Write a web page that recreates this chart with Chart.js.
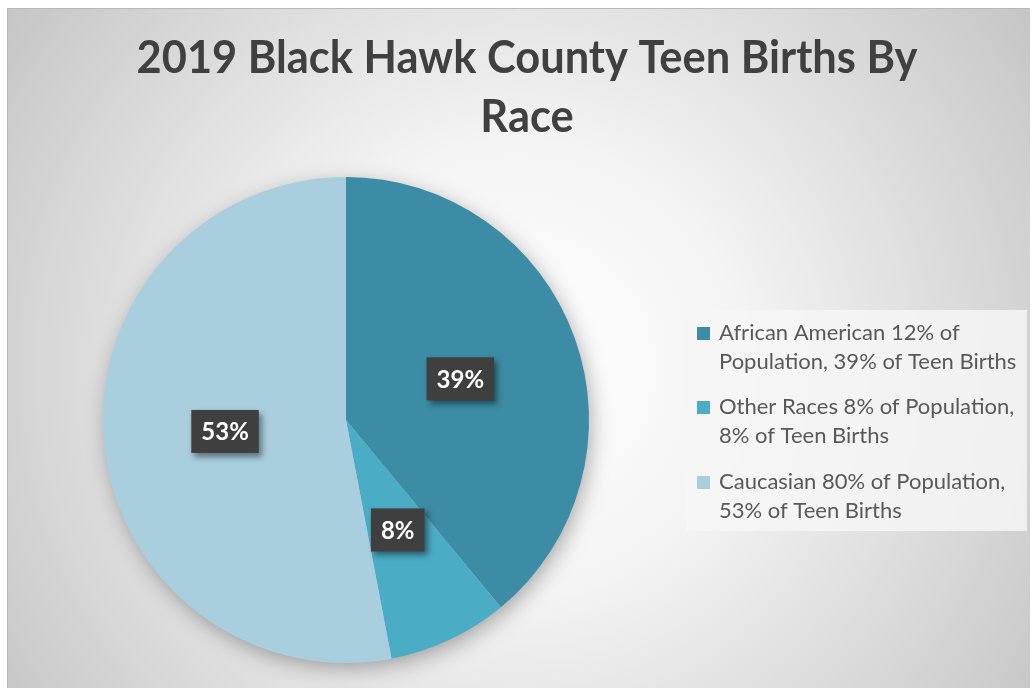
<!DOCTYPE html>
<html>
<head>
<meta charset="utf-8">
<script src="https://cdn.jsdelivr.net/npm/chart.js@4/dist/chart.umd.min.js"></script>
<style>
  html, body { margin: 0; padding: 0; background: #ffffff; }
  canvas { display: block; }
</style>
</head>
<body>
<canvas id="c" width="1032" height="688"></canvas>
<script>
// ---- data ----
const titleLines = ['2019 Black Hawk County Teen Births By', 'Race'];
const categories = [
  ['African American 12% of', 'Population, 39% of Teen Births'],
  ['Other Races 8% of Population,', '8% of Teen Births'],
  ['Caucasian 80% of Population,', '53% of Teen Births']
];
const values = [39, 8, 53];
const valueLabels = ['39%', '8%', '53%'];
const colors = ['#3b8ca4', '#4bacc6', '#a9cfdf'];

const FONT = 'Lato, "Open Sans", "DejaVu Sans", sans-serif';

const decor = {
  id: 'decor',
  beforeDraw(chart) {
    const ctx = chart.ctx;
    const x0 = 7, y0 = 8, x1 = 1030, y1 = 688;
    ctx.save();
    ctx.fillStyle = '#ffffff';
    ctx.fillRect(0, 0, chart.width, chart.height);
    const cx = (x0 + x1) / 2, cy = (y0 + y1) / 2 + 20;
    const g = ctx.createRadialGradient(cx, cy, 0, cx, cy, 640);
    g.addColorStop(0, '#ffffff');
    g.addColorStop(0.35, '#f4f4f4');
    g.addColorStop(1, '#c4c4c4');
    ctx.fillStyle = g;
    ctx.fillRect(x0, y0, x1 - x0, y1 - y0);
    ctx.strokeStyle = '#b8b8b8';
    ctx.lineWidth = 1;
    ctx.beginPath();
    ctx.moveTo(x0 + 0.5, y1);
    ctx.lineTo(x0 + 0.5, y0 + 0.5);
    ctx.lineTo(x1, y0 + 0.5);
    ctx.stroke();
    ctx.restore();
  },
  beforeDatasetsDraw(chart) {
    const arc = chart.getDatasetMeta(0).data[0];
    if (!arc) return;
    const p = arc.getProps(['x', 'y', 'outerRadius'], true);
    const ctx = chart.ctx;
    ctx.save();
    ctx.shadowColor = 'rgba(0,0,0,0.35)';
    ctx.shadowBlur = 22;
    ctx.shadowOffsetX = 3;
    ctx.shadowOffsetY = 6;
    ctx.fillStyle = '#a9cfdf';
    ctx.beginPath();
    ctx.arc(p.x, p.y, p.outerRadius - 2, 0, Math.PI * 2);
    ctx.fill();
    ctx.restore();
  },
  afterDatasetsDraw(chart) {
    const ctx = chart.ctx;
    const meta = chart.getDatasetMeta(0);
    ctx.save();
    ctx.font = 'bold 24px ' + FONT;
    ctx.textAlign = 'center';
    ctx.textBaseline = 'middle';
    meta.data.forEach((arc, i) => {
      const pos = arc.tooltipPosition();
      const txt = valueLabels[i];
      const w = ctx.measureText(txt).width + 20;
      const h = 43;
      const bx = pos.x - w / 2, by = pos.y - h / 2;
      ctx.save();
      ctx.shadowColor = 'rgba(0,0,0,0.45)';
      ctx.shadowBlur = 6;
      ctx.shadowOffsetX = 3;
      ctx.shadowOffsetY = 4;
      ctx.fillStyle = '#3f3f3f';
      ctx.fillRect(bx, by, w, h);
      ctx.restore();
      ctx.fillStyle = '#ffffff';
      ctx.fillText(txt, pos.x, pos.y + 1);
    });
    ctx.restore();
  },
  afterDraw(chart) {
    const ctx = chart.ctx;
    ctx.save();
    // title
    ctx.fillStyle = '#404040';
    ctx.font = 'bold 45px ' + FONT;
    ctx.textAlign = 'center';
    ctx.textBaseline = 'alphabetic';
    const tx = 527;
    const sx = 781 / ctx.measureText(titleLines[0]).width;
    titleLines.forEach((line, i) => {
      ctx.save();
      ctx.translate(tx, i === 0 ? 73 : 132);
      ctx.scale(sx, 1);
      ctx.fillText(line, 0, 0);
      ctx.restore();
    });
    // legend
    const lx = 686, ly = 310, lw = 341, lh = 221;
    ctx.fillStyle = 'rgba(246,246,246,0.85)';
    ctx.fillRect(lx, ly, lw, lh);
    ctx.font = '22px ' + FONT;
    ctx.textAlign = 'left';
    ctx.textBaseline = 'middle';
    const itemY = [333, 407, 482];
    categories.forEach((lines, i) => {
      const y = itemY[i];
      ctx.fillStyle = colors[i];
      ctx.fillRect(697, y - 6, 13, 13);
      ctx.fillStyle = '#595959';
      lines.forEach((t, j) => {
        ctx.fillText(t, 719, y + j * 29);
      });
    });
    ctx.restore();
  }
};

new Chart(document.getElementById('c'), {
  type: 'pie',
  data: {
    labels: categories,
    datasets: [{
      data: values,
      backgroundColor: colors,
      borderWidth: 0
    }]
  },
  options: {
    responsive: false,
    devicePixelRatio: 1,
    animation: false,
    layout: { padding: { left: 103, top: 177, right: 443, bottom: 25 } },
    plugins: {
      legend: { display: false },
      title: { display: false },
      tooltip: { enabled: false }
    }
  },
  plugins: [decor]
});
</script>
</body>
</html>
